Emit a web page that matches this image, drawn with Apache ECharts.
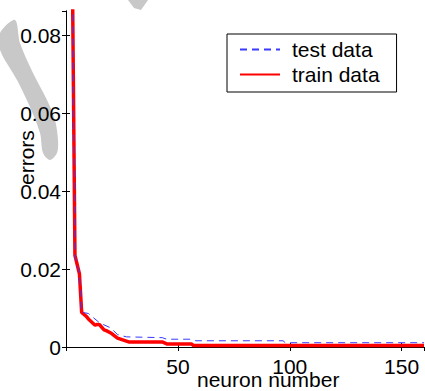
<!DOCTYPE html>
<html>
<head>
<meta charset="utf-8">
<script src="https://cdn.jsdelivr.net/npm/echarts@6/dist/echarts.min.js"></script>
<style>
  html, body { margin: 0; padding: 0; background: #fff; }
  #chart { width: 425px; height: 391px; }
</style>
</head>
<body>
<div id="chart"></div>
<script>
// neuron number vs error
var trainN = [2, 4, 6, 7, 9, 10, 13, 14, 15, 17, 18, 20, 23, 25, 28, 43, 45, 56, 57, 160];
var trainErr = [0.15, 0.0235, 0.0188, 0.0089, 0.0079, 0.0072, 0.0056, 0.0058, 0.0057, 0.0044, 0.0042, 0.0036, 0.0023, 0.0019, 0.0013, 0.0013, 0.0008, 0.0008, 0.0004, 0.0004];

var testN = [2, 4, 6, 7, 10, 15, 20, 23, 27, 43, 45, 56, 58, 97, 98, 160];
var testErr = [0.15, 0.0235, 0.0188, 0.0089, 0.0086, 0.0062, 0.0049, 0.0032, 0.0026, 0.0024, 0.002, 0.002, 0.0016, 0.0016, 0.0011, 0.0011];

var xMin = 0, xMax = 160, xStep = 50;
var yMin = 0, yMax = 0.0862, yStep = 0.02;

function pairs(xs, ys) {
  return xs.map(function(x, i) { return [x, ys[i]]; });
}

var font = 'Liberation Sans, Arial, sans-serif';
var chart = echarts.init(document.getElementById('chart'), null, { renderer: 'svg' });
var axisLine = { show: true, lineStyle: { color: '#000', width: 1 } };
var tick = { show: true, inside: true, length: 4, lineStyle: { color: '#000' } };

chart.setOption({
  animation: false,
  grid: { left: 66, right: 1, top: 11, bottom: 44 },
  xAxis: [{
    type: 'value', min: xMin, max: xMax, interval: xStep, position: 'bottom',
    axisLine: axisLine, axisTick: tick, splitLine: { show: false },
    axisLabel: { color: '#000', fontSize: 21, fontFamily: font, margin: 9, showMinLabel: false }
  }, {
    type: 'value', min: xMin, max: xMax, interval: xStep, position: 'top',
    axisLine: axisLine, axisTick: tick, splitLine: { show: false }, axisLabel: { show: false }
  }],
  yAxis: [{
    type: 'value', min: yMin, max: yMax, interval: yStep, position: 'left',
    axisLine: axisLine, axisTick: tick, splitLine: { show: false },
    axisLabel: {
      color: '#000', fontSize: 21, fontFamily: font, margin: 5, showMaxLabel: false,
      formatter: function(v) { return v === 0 ? '0' : v.toFixed(2); }
    }
  }, {
    type: 'value', min: yMin, max: yMax, interval: yStep, position: 'right',
    axisLine: axisLine, axisTick: tick, splitLine: { show: false }, axisLabel: { show: false }
  }],
  legend: {
    orient: 'vertical', left: 227, top: 34,
    backgroundColor: '#fff', borderColor: '#000', borderWidth: 1,
    padding: [5, 17, 7, 12], itemGap: 4, itemWidth: 40, itemHeight: 14,
    itemStyle: { opacity: 0 },
    textStyle: { color: '#000', fontSize: 21, fontFamily: font, padding: [0, 0, 0, 7] },
    data: ['test data', 'train data']
  },
  graphic: [
    // grey watermark behind the plot
    { type: 'polygon', z: -10, silent: true,
      shape: { points: [[0, 33], [15, 20], [20, 43], [33, 73], [47, 100], [55, 120], [58, 140], [57, 153], [50, 160], [43, 153], [40, 133], [30, 107], [17, 80], [0, 50]], smooth: 0.3 },
      style: { fill: '#c8c8c8' } },
    { type: 'polygon', z: -10, silent: true,
      shape: { points: [[128, 0], [148, 0], [141, 10], [134, 8]] },
      style: { fill: '#c8c8c8' } },
    { type: 'text', left: 197, top: 369, style: { text: 'neuron number', fill: '#000', font: '21px ' + font } },
    { type: 'text', x: 16, y: 185, rotation: Math.PI / 2, style: { text: 'errors', fill: '#000', font: '21px ' + font } }
  ],
  series: [{
    name: 'test data', type: 'line', symbol: 'none', clip: true, z: 3,
    lineStyle: { color: '#3a3aff', width: 1, type: [7, 5] },
    itemStyle: { color: '#3a3aff' },
    data: pairs(testN, testErr)
  }, {
    name: 'train data', type: 'line', symbol: 'none', clip: true, z: 2,
    lineStyle: { color: '#ff0000', width: 3.5 },
    itemStyle: { color: '#ff0000' },
    data: pairs(trainN, trainErr)
  }]
});
</script>
</body>
</html>
